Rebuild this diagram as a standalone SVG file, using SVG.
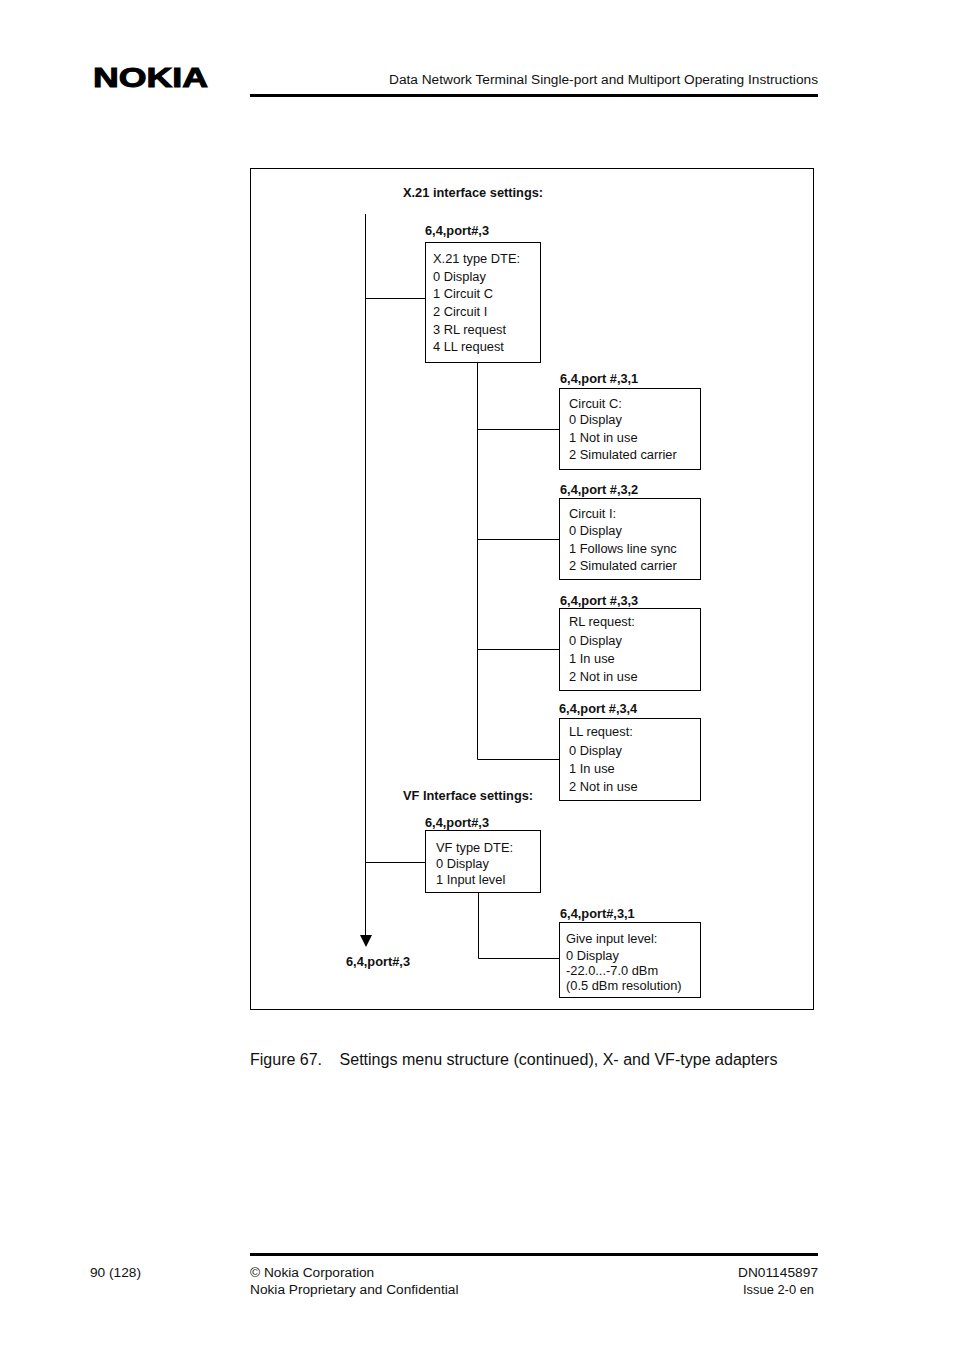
<svg xmlns="http://www.w3.org/2000/svg" width="954" height="1351" viewBox="0 0 954 1351">
<style>
text{font-family:"Liberation Sans",Arial,sans-serif;font-size:12.85px;fill:#111}
.b{font-weight:bold;font-size:12.8px}
.h{font-size:16px}
.s{font-size:13.7px}
rect.n{fill:#fff;stroke:#000;stroke-width:1}
.c{fill:none;stroke:#000;stroke-width:1}
.r{fill:#000}
</style>
<rect width="954" height="1351" fill="#fff"/>
<g id="logo"><text x="93" y="87" style="font-size:27px;font-weight:bold;fill:#000;stroke:#000;stroke-width:1" textLength="115" lengthAdjust="spacingAndGlyphs">NOKIA</text></g>
<g id="header"><text class="s" x="389" y="84" textLength="429" lengthAdjust="spacingAndGlyphs">Data Network Terminal Single-port and Multiport Operating Instructions</text><rect class="r" x="250" y="94" width="568" height="3"/></g>
<rect id="frame" x="250.500" y="168.500" width="563" height="841" fill="#fff" stroke="#000"/>
<text class="b" x="403" y="197">X.21 interface settings:</text>
<text class="b" x="403" y="800">VF Interface settings:</text>
<g id="connectors">
<path class="c" d="M365.500 214V937M365.500 298.500H425M477.500 362V759.500H559M477.500 429.500H559M477.500 539.500H559M477.500 649.500H559M365.500 862.500H425M478.500 893V958.500H559"/>
<polygon class="r" points="360,935 372,935 366,947"/>
</g>
<text class="b" x="346" y="966">6,4,port#,3</text>
<g id="n1"><text class="b" x="425" y="235">6,4,port#,3</text><rect class="n" x="425.500" y="242.500" width="115" height="120"/>
<text x="433" y="263">X.21 type DTE:</text><text x="433" y="281">0 Display</text><text x="433" y="298">1 Circuit C</text><text x="433" y="316">2 Circuit I</text><text x="433" y="334">3 RL request</text><text x="433" y="351">4 LL request</text></g>
<g id="n2"><text class="b" x="560" y="383">6,4,port #,3,1</text><rect class="n" x="559.500" y="388.500" width="141" height="81"/>
<text x="569" y="408">Circuit C:</text><text x="569" y="424">0 Display</text><text x="569" y="442">1 Not in use</text><text x="569" y="459">2 Simulated carrier</text></g>
<g id="n3"><text class="b" x="560" y="494">6,4,port #,3,2</text><rect class="n" x="559.500" y="498.500" width="141" height="81"/>
<text x="569" y="518">Circuit I:</text><text x="569" y="535">0 Display</text><text x="569" y="553">1 Follows line sync</text><text x="569" y="570">2 Simulated carrier</text></g>
<g id="n4"><text class="b" x="560" y="605">6,4,port #,3,3</text><rect class="n" x="559.500" y="608.500" width="141" height="82"/>
<text x="569" y="626">RL request:</text><text x="569" y="645">0 Display</text><text x="569" y="663">1 In use</text><text x="569" y="681">2 Not in use</text></g>
<g id="n5"><text class="b" x="559" y="713">6,4,port #,3,4</text><rect class="n" x="559.500" y="718.500" width="141" height="82"/>
<text x="569" y="736">LL request:</text><text x="569" y="755">0 Display</text><text x="569" y="773">1 In use</text><text x="569" y="791">2 Not in use</text></g>
<g id="n6"><text class="b" x="425" y="827">6,4,port#,3</text><rect class="n" x="425.500" y="830.500" width="115" height="62"/>
<text x="436" y="852">VF type DTE:</text><text x="436" y="868">0 Display</text><text x="436" y="884">1 Input level</text></g>
<g id="n7"><text class="b" x="560" y="918">6,4,port#,3,1</text><rect class="n" x="559.500" y="922.500" width="141" height="75"/>
<text x="566" y="943">Give input level:</text><text x="566" y="960">0 Display</text><text x="566" y="975">-22.0...-7.0 dBm</text><text x="566" y="990">(0.5 dBm resolution)</text></g>
<text class="h" x="250" y="1065">Figure 67.</text><text class="h" x="339.500" y="1065" textLength="438" lengthAdjust="spacingAndGlyphs">Settings menu structure (continued), X- and VF-type adapters</text>
<g id="footer"><rect class="r" x="250" y="1253" width="568" height="3"/>
<text class="s" x="90" y="1277">90 (128)</text><text class="s" x="250" y="1277">© Nokia Corporation</text><text class="s" x="250" y="1294">Nokia Proprietary and Confidential</text><text class="s" x="738" y="1277" textLength="80">DN01145897</text><text class="s" x="743" y="1294" textLength="71" lengthAdjust="spacingAndGlyphs">Issue 2-0 en</text></g>
</svg>
